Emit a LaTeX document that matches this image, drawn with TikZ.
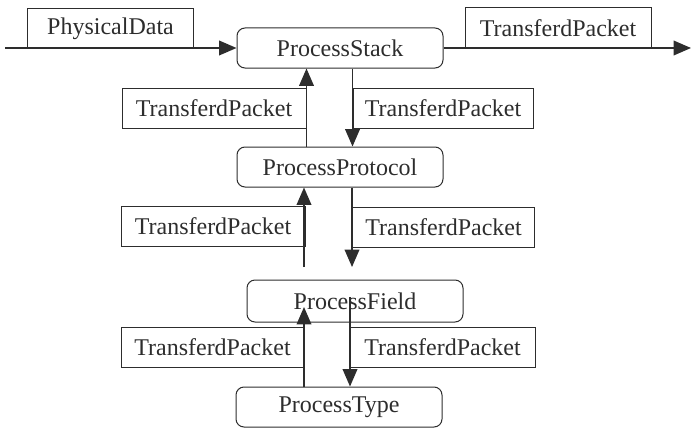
\documentclass[tikz,border=0pt]{standalone}
\usepackage{fontspec}
\setmainfont{Liberation Serif}
\usetikzlibrary{arrows.meta}
\definecolor{inkgray}{RGB}{45,45,45}
\tikzset{every picture/.style={line width=0.75pt}}
\tikzset{
  procbox/.style={draw=inkgray, rounded corners=6pt, minimum width=154.5pt, minimum height=30pt, inner sep=0pt, text=inkgray, font=\fontsize{18}{21}\selectfont},
  pktbox/.style={draw=inkgray, minimum height=30pt, inner sep=0pt, text=inkgray, font=\fontsize{18}{21}\selectfont},
  flow/.style={draw=inkgray, line width=1pt, -{Triangle[length=13pt,width=11pt]}}
}

\begin{document}
\begin{tikzpicture}[x=0.75pt,y=0.75pt,yscale=-1,xscale=1]
\useasboundingbox (0,0) rectangle (691,428);

%Process boxes
\node [procbox] (stack) at (340,48) {ProcessStack};
\node [procbox] (protocol) at (340,167) {ProcessProtocol};
\node [procbox, minimum width=162pt, minimum height=31.5pt] (field) at (355,301) {ProcessField};
\node [procbox] (type) at (339,407) {ProcessType};

%Packet labels
\node [pktbox, minimum width=124pt, minimum height=29.25pt] (physdata) at (110.5,28.5) {PhysicalData};
\node [pktbox, minimum width=139.5pt] (outpkt) at (558,28) {TransferdPacket};
\node [pktbox, minimum width=138pt] (upone) at (214,108) {TransferdPacket};
\node [pktbox, minimum width=135pt] (downone) at (443,108) {TransferdPacket};
\node [pktbox, minimum width=138pt] (uptwo) at (213,226.5) {TransferdPacket};
\node [pktbox, minimum width=137pt] (downtwo) at (443.5,227) {TransferdPacket};
\node [pktbox, minimum width=137pt] (upthree) at (212.5,347) {TransferdPacket};
\node [pktbox, minimum width=139pt] (downthree) at (442.5,347) {TransferdPacket};

%Free ends
\coordinate (inlet) at (5,48);
\coordinate (outlet) at (691,48);
\coordinate (upstart) at (304,267);
\coordinate (downend) at (352,267);
\coordinate (upend) at (304,307);
\coordinate (downstart) at (350,297);

%Flows
\draw [flow] (inlet) -- (stack.west);
\draw [flow] (stack.east) -- (outlet);
\draw [flow] (upone.east |- protocol.north) -- (upone.east |- stack.south);
\draw [flow] (downone.west |- stack.south) -- (downone.west |- protocol.north);
\draw [flow] (upstart) -- (upstart |- protocol.south);
\draw [flow] (downend |- protocol.south) -- (downend);
\draw [flow] (upend |- type.north) -- (upend);
\draw [flow] (downstart) -- (downstart |- type.north);

\end{tikzpicture}
\end{document}
